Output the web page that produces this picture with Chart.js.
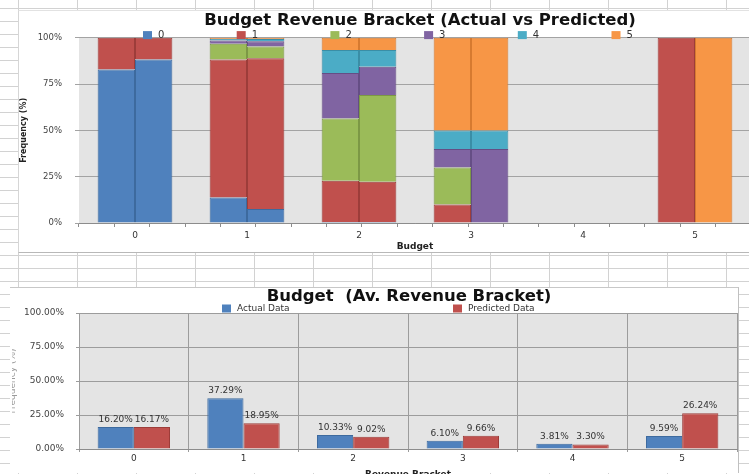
<!DOCTYPE html>
<html>
<head>
<meta charset="utf-8">
<title>Budget Revenue Bracket</title>
<script src="https://cdn.jsdelivr.net/npm/chart.js@4.4.1/dist/chart.umd.min.js"></script>
<style>
    html, body { margin: 0; padding: 0; }
    body {
        width: 749px;
        height: 474px;
        overflow: hidden;
        position: relative;
        background-color: #fff;
        /* spreadsheet cells behind the two charts */
        background-image:
            linear-gradient(to bottom, #d2d2d2 1px, transparent 1px),
            linear-gradient(to right, #d2d2d2 1px, transparent 1px);
        background-size: 59px 13px;
        background-position: 18px 8px;
    }
    .sheet { position: absolute; background: #fff; box-sizing: border-box; }
    #topBox { left: 18px; top: 10px; width: 760px; height: 243px; border-left: 1px solid #d6d6d6; border-top: 1px solid #e2e2e2; border-bottom: 1px solid #b8b8b8; }
    #bottomBox { left: 10px; top: 287px; width: 729px; height: 186px; border-top: 1px solid #c8c8c8; border-right: 1px solid #c0c0c0; }
    .wrap { position: absolute; }
    #topWrap { left: 18px; top: 10px; width: 804px; height: 243px; }
    #bottomWrap { left: 12px; top: 287px; width: 794px; height: 194px; }
</style>
</head>
<body>
<div class="sheet" id="topBox"></div>
<div class="sheet" id="bottomBox"></div>
<div class="wrap" id="topWrap"><canvas id="mixChart"></canvas></div>
<div class="wrap" id="bottomWrap"><canvas id="shareChart"></canvas></div>
<script>
document.addEventListener("DOMContentLoaded", function () {

    // ---- top chart: revenue bracket mix inside each budget bracket (%)
    const budgetBrackets = ["0", "1", "2", "3", "4", "5"];
    const revenueBrackets = ["0", "1", "2", "3", "4", "5"];

    // one row per revenue bracket, one column per budget bracket
    const actualMix = [
        [82.9, 13.8, 0.5, null, null, null],
        [17.1, 74.5, 22.3, 10, null, 100],
        [null, 8.5, 33.6, 20, null, null],
        [null, 1.8, 24.6, 10, null, null],
        [null, 0.7, 12.4, 10, null, null],
        [null, 0.7, 6.6, 50, null, null]
    ];
    const predictedMix = [
        [88.3, 7.5, 0.5, null, null, null],
        [11.7, 81.4, 21.8, null, null, null],
        [null, 6.4, 46.8, null, null, null],
        [null, 2.9, 15.3, 40, null, null],
        [null, 1.1, 9.0, 10, null, null],
        [null, 0.7, 6.6, 50, null, 100]
    ];

    // ---- bottom chart: share per revenue bracket (%)
    const revenueLabels = ["0", "1", "2", "3", "4", "5"];
    const actualData = [16.20, 37.29, 10.33, 6.10, 3.81, 9.59];
    const predictedData = [16.17, 18.95, 9.02, 9.66, 3.30, 26.24];

    const percentTicks = [0, 25, 50, 75, 100];

    const colours = ["#4f81bd", "#c0504d", "#9bbb59", "#8064a2", "#4bacc6", "#f79646"];
    const edges = ["#3d6a9e", "#9d3d3a", "#7c9845", "#654e85", "#3a8ea6", "#d67a30"];

    Chart.defaults.font.family = "'DejaVu Sans', Verdana, sans-serif";
    Chart.defaults.color = "#333";

    // grey plot background like the spreadsheet chart
    const plotBackground = {
        id: "plotBackground",
        beforeDraw(chart, args, opts) {
            const { ctx, chartArea: a } = chart;
            ctx.save();
            ctx.fillStyle = opts.color;
            ctx.fillRect(a.left, a.top, a.width, a.height);
            ctx.restore();
        }
    };

    // legend spread over the width, sitting on the top edge of the plot
    const spreadLegend = {
        id: "spreadLegend",
        afterDraw(chart, args, opts) {
            const ctx = chart.ctx;
            const y = chart.chartArea.top + opts.offsetY;
            ctx.save();
            ctx.font = opts.font;
            ctx.textBaseline = "middle";
            let i = 0;
            chart.data.datasets.forEach(ds => {
                if (opts.stack && ds.stack !== opts.stack) return;
                const x = opts.left + i * opts.step;
                ctx.fillStyle = ds.backgroundColor;
                ctx.fillRect(x, y - 4, 9, 8);
                ctx.fillStyle = "#333";
                ctx.fillText(ds.label, x + 15, y);
                i++;
            });
            ctx.restore();
        }
    };

    // value labels over the bars
    const valueLabels = {
        id: "valueLabels",
        afterDatasetsDraw(chart, args, opts) {
            const ctx = chart.ctx;
            ctx.save();
            ctx.font = opts.font;
            ctx.fillStyle = opts.color;
            ctx.textAlign = "center";
            ctx.textBaseline = "bottom";
            chart.data.datasets.forEach((ds, i) => {
                chart.getDatasetMeta(i).data.forEach((bar, j) => {
                    ctx.fillText(ds.data[j].toFixed(2) + "%", bar.x, bar.y - 3);
                });
            });
            ctx.restore();
        }
    };

    // empty axis on the right: keeps room right of the plot, title stays centred on the canvas
    const spacerAxis = width => ({
        type: "linear",
        position: "right",
        grid: { display: false, drawTicks: false },
        border: { display: false },
        ticks: { display: false },
        afterFit: scale => { scale.width = width; }
    });

    const mixDatasets = [];
    revenueBrackets.forEach((b, i) => {
        mixDatasets.push({
            label: b,
            stack: "actual",
            data: actualMix[i],
            backgroundColor: colours[i],
            borderColor: edges[i],
            borderWidth: 1
        });
        mixDatasets.push({
            label: b,
            stack: "predicted",
            data: predictedMix[i],
            backgroundColor: colours[i],
            borderColor: edges[i],
            borderWidth: 1
        });
    });

    new Chart(document.getElementById("mixChart"), {
        type: "bar",
        data: {
            labels: budgetBrackets,
            datasets: mixDatasets
        },
        plugins: [plotBackground, spreadLegend],
        options: {
            responsive: true,
            maintainAspectRatio: false,
            animation: false,
            devicePixelRatio: 1,
            categoryPercentage: 0.667,
            barPercentage: 1,
            layout: { padding: 0 },
            plugins: {
                legend: { display: false },
                tooltip: { enabled: false },
                title: {
                    display: true,
                    text: "Budget Revenue Bracket (Actual vs Predicted)",
                    color: "#111",
                    font: { size: 16.5, weight: "bold" },
                    padding: { top: 1, bottom: 7 }
                },
                plotBackground: { color: "#e4e4e4" },
                spreadLegend: { stack: "actual", left: 125, step: 93.7, offsetY: -2.7, font: "10px 'DejaVu Sans'" }
            },
            scales: {
                x: {
                    stacked: true,
                    grid: { display: false, drawTicks: false },
                    border: { color: "#8c8c8c" },
                    ticks: { padding: 7, font: { size: 9 }, color: "#333" },
                    afterFit: scale => { scale.height = 30; },
                    title: {
                        display: true,
                        text: "Budget",
                        color: "#222",
                        font: { size: 9, weight: "bold" },
                        padding: { top: 1, bottom: 0.5 }
                    }
                },
                xMinor: {
                    type: "linear",
                    position: { y: 0 },
                    min: 0,
                    max: 18,
                    ticks: { display: false, stepSize: 1 },
                    grid: { drawOnChartArea: false, tickLength: 4, color: "#8c8c8c" },
                    border: { display: false }
                },
                y: {
                    stacked: true,
                    min: 0,
                    max: 100,
                    afterFit: scale => { scale.width = 61; },
                    afterBuildTicks: scale => { scale.ticks = percentTicks.map(v => ({ value: v })); },
                    ticks: { padding: 13, font: { size: 8.5 }, color: "#444", callback: v => v + "%" },
                    grid: { color: "#a3a3a3", tickLength: 4 },
                    border: { display: false },
                    title: {
                        display: true,
                        text: "Frequency (%)",
                        color: "#222",
                        font: { size: 8, weight: "bold" },
                        padding: { top: 1, bottom: 0 }
                    }
                },
                yRight: spacerAxis(71)
            }
        }
    });

    new Chart(document.getElementById("shareChart"), {
        type: "bar",
        data: {
            labels: revenueLabels,
            datasets: [
                {
                    label: "Actual Data",
                    data: actualData,
                    backgroundColor: colours[0],
                    borderColor: edges[0],
                    borderWidth: 1
                },
                {
                    label: "Predicted Data",
                    data: predictedData,
                    backgroundColor: colours[1],
                    borderColor: edges[1],
                    borderWidth: 1
                }
            ]
        },
        plugins: [plotBackground, spreadLegend, valueLabels],
        options: {
            responsive: true,
            maintainAspectRatio: false,
            animation: false,
            devicePixelRatio: 1,
            categoryPercentage: 0.66,
            barPercentage: 1,
            layout: { padding: 0 },
            plugins: {
                legend: { display: false },
                tooltip: { enabled: false },
                title: {
                    display: true,
                    text: "Budget  (Av. Revenue Bracket)",
                    color: "#111",
                    font: { size: 16.5, weight: "bold" },
                    padding: { top: 0, bottom: 6.2 }
                },
                plotBackground: { color: "#e4e4e4" },
                spreadLegend: { left: 210, step: 231, offsetY: -4.5, font: "9px 'DejaVu Sans'" },
                valueLabels: { font: "9px 'DejaVu Sans'", color: "#333" }
            },
            scales: {
                x: {
                    grid: { color: "#9c9c9c", tickLength: 3 },
                    border: { color: "#8c8c8c" },
                    ticks: { padding: 1.6, font: { size: 9 }, color: "#333" },
                    afterFit: scale => { scale.height = 32; },
                    title: {
                        display: true,
                        text: "Revenue Bracket",
                        color: "#222",
                        font: { size: 9, weight: "bold" },
                        padding: { top: 5.2, bottom: 0.6 }
                    }
                },
                y: {
                    min: 0,
                    max: 100,
                    afterFit: scale => { scale.width = 67; },
                    afterBuildTicks: scale => { scale.ticks = percentTicks.map(v => ({ value: v })); },
                    ticks: { padding: 12, font: { size: 9 }, color: "#444", callback: v => v.toFixed(2) + "%" },
                    grid: { color: "#9c9c9c", tickLength: 3 },
                    border: { display: false },
                    title: {
                        display: true,
                        text: "Frequency (%)",
                        color: "#9a9a9a",
                        font: { size: 9 },
                        padding: { top: -5, bottom: 0 }
                    }
                },
                yRight: spacerAxis(69)
            }
        }
    });
});
</script>
</body>
</html>
